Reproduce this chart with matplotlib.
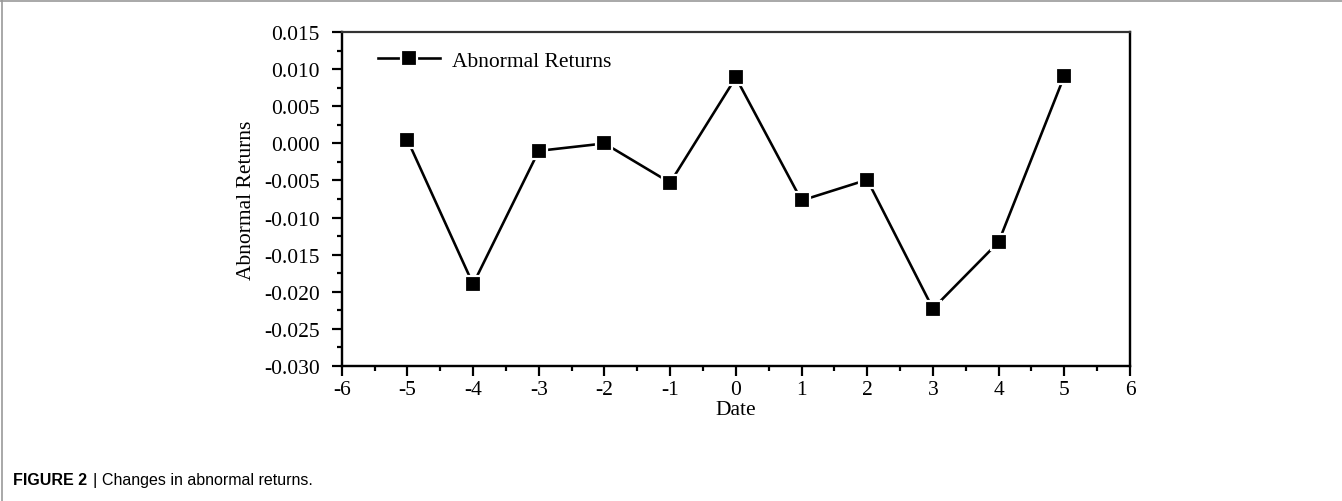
import matplotlib
matplotlib.use("Agg")
import matplotlib.pyplot as plt
from matplotlib.ticker import MultipleLocator, FormatStrFormatter
from matplotlib.lines import Line2D

# Event window (days relative to the event) and abnormal returns
dates = [-5, -4, -3, -2, -1, 0, 1, 2, 3, 4, 5]
abnormal_returns = [0.0005, -0.0190, -0.0010, 0.0000, -0.0053, 0.0089,
                    -0.0077, -0.0049, -0.0223, -0.0133, 0.0091]

x_ticks = list(range(-6, 7))
y_ticks = [0.015, 0.010, 0.005, 0.000, -0.005, -0.010, -0.015,
           -0.020, -0.025, -0.030]

serif = ["Liberation Serif", "DejaVu Serif"]
FS = 15.5
W, H, DPI = 1342, 502, 100

fig = plt.figure(figsize=(W / DPI, H / DPI), dpi=DPI)
ax = fig.add_axes([341.7 / W, 1 - 366.7 / H, (1130 - 341.7) / W, (366.7 - 33.3) / H])

px = 72.0 / DPI  # one pixel in points
ax.plot(dates, abnormal_returns, color="black", lw=2.6 * px,
        marker="s", markersize=15.5 * px, markerfacecolor="black",
        markeredgecolor="white", markeredgewidth=2.2 * px,
        label="Abnormal Returns", zorder=3)

ax.set_xlim(-6, 6)
ax.set_ylim(-0.030, 0.015)
ax.set_xticks(x_ticks)
ax.xaxis.set_minor_locator(MultipleLocator(0.5))
ax.set_yticks(y_ticks)
ax.yaxis.set_minor_locator(MultipleLocator(0.0025))
ax.yaxis.set_major_formatter(FormatStrFormatter("%.3f"))
ax.xaxis.set_major_formatter(FormatStrFormatter("%d"))

ax.tick_params(which="both", direction="out", top=False, right=False,
               width=2.2 * px, labelsize=FS)
ax.tick_params(axis="x", pad=3)
ax.tick_params(axis="y", pad=8.5)
ax.tick_params(which="major", length=10 * px)
ax.tick_params(which="minor", length=5 * px)
for lbl in ax.get_xticklabels() + ax.get_yticklabels():
    lbl.set_fontfamily(serif)
for side in ["left", "bottom", "right"]:
    ax.spines[side].set_linewidth(2.4 * px)
ax.spines["top"].set_linewidth(2.2 * px)
ax.spines["top"].set_color("#333333")

ax.set_xlabel("Date", fontsize=FS, family=serif, labelpad=0.5)
ax.set_ylabel("Abnormal Returns", fontsize=FS, family=serif, labelpad=6)

leg = ax.legend(loc="center left", bbox_to_anchor=(0.046, 0.914),
                frameon=False, borderpad=0, borderaxespad=0,
                handlelength=2.88, handletextpad=0.56, numpoints=1,
                prop={"family": serif, "size": FS})

# Page frame lines and figure caption
fig.add_artist(Line2D([1.5 / W, 1.5 / W], [0, 1], color="#9a9a9a", lw=1.2,
                      transform=fig.transFigure))
fig.add_artist(Line2D([0, 1], [1 - 1.5 / H, 1 - 1.5 / H], color="#9a9a9a",
                      lw=1.2, transform=fig.transFigure))

cap_y = 1 - 481 / H
sans = ["Liberation Sans Narrow", "Liberation Sans", "DejaVu Sans"]
CFS = 11.5
t1 = fig.text(13 / W, cap_y, "FIGURE 2", fontsize=CFS, fontweight="bold",
              family=sans, va="center", ha="left")
fig.canvas.draw()
bb = t1.get_window_extent()
t2 = fig.text((bb.x1 + 5) / W, cap_y, "|", fontsize=CFS + 1, family=sans,
              va="center", ha="left")
bb2 = t2.get_window_extent()
fig.text((bb2.x1 + 5) / W, cap_y, "Changes in abnormal returns.",
         fontsize=CFS, family=sans, va="center", ha="left")

fig.savefig("out.png", dpi=DPI)
